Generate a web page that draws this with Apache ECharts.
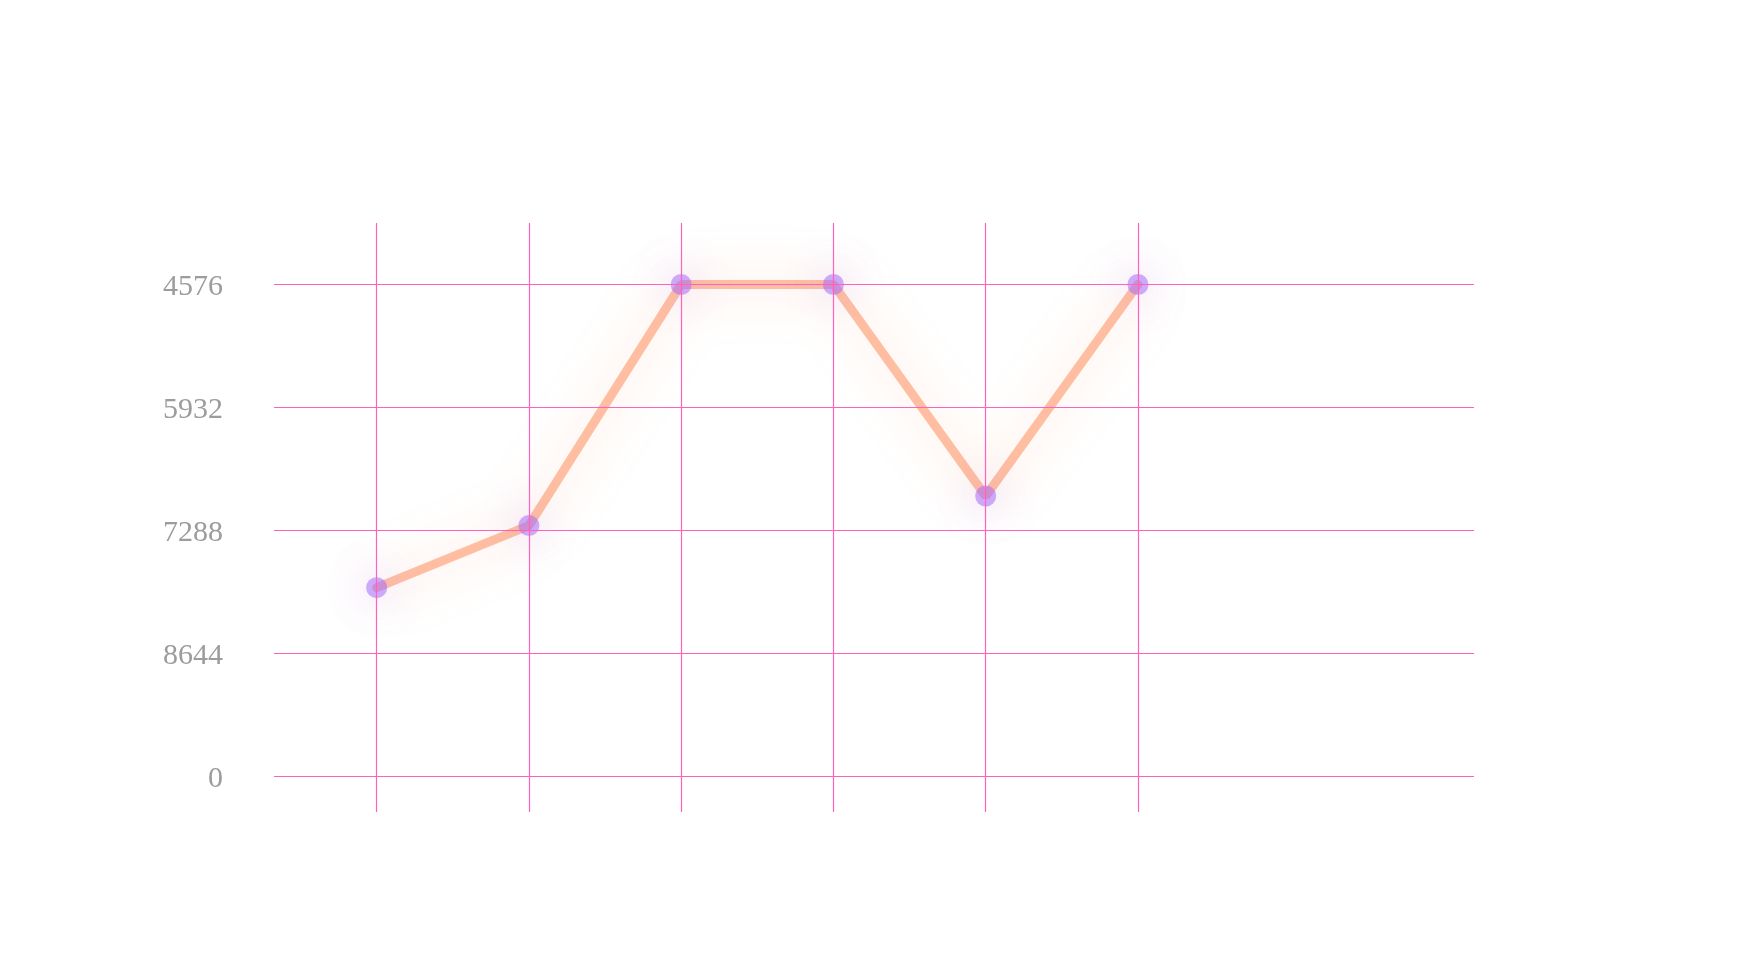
<!DOCTYPE html>
<html>
<head>
<meta charset="utf-8">
<script src="https://cdn.jsdelivr.net/npm/echarts@6/dist/echarts.min.js"></script>
<style>html,body{margin:0;padding:0;background:#fff}#c{width:1742px;height:980px}</style>
</head>
<body>
<div id="c"></div>
<script>
// tick labels, bottom to top (positions 0..4 on the value axis)
var yTickLabels = ['0', '8644', '7288', '5932', '4576'];
var yTickPositions = [0, 1, 2, 3, 4];
// x positions of the points (vertical grid lines)
var xPositions = [0, 1, 2, 3, 4, 5];
// series values, in axis units
var seriesValues = [1.535, 2.04, 4, 4, 2.28, 4];

var gridColor = '#ff62bc';
var chart = echarts.init(document.getElementById('c'), null, {renderer: 'canvas'});
var points = xPositions.map(function (x, i) { return [x, seriesValues[i]]; });

chart.setOption({
  backgroundColor: '#ffffff',
  animation: false,
  grid: {left: 274, right: 268, top: 223, bottom: 168, containLabel: false},
  xAxis: {
    type: 'value', min: -0.674, max: 7.207,
    axisLine: {show: false}, axisTick: {show: false}, axisLabel: {show: false}, splitLine: {show: false}
  },
  yAxis: {
    type: 'value', min: -0.289, max: 4.5,
    axisLine: {show: false}, axisTick: {show: false}, splitLine: {show: false},
    axisLabel: {
      show: true, customValues: yTickPositions, margin: 51,
      fontFamily: '"Liberation Serif", serif', fontSize: 30, color: '#9c9c9c',
      formatter: function (v) { var i = Math.round(v); return yTickLabels[i] !== undefined ? '{t|' + yTickLabels[i] + '}' : ''; },
      rich: {
        t: {fontFamily: '"Liberation Serif", serif', fontSize: 30, color: '#9c9c9c', padding: [5, 0, 0, 0]}
      }
    }
  },
  series: [
    {
      type: 'line', data: [], z: 1, silent: true,
      markLine: {
        silent: true, symbol: 'none', animation: false,
        label: {show: false},
        lineStyle: {color: gridColor, width: 1.2, type: 'solid'},
        emphasis: {disabled: true},
        data: yTickPositions.map(function (v) { return {yAxis: v}; })
          .concat(xPositions.map(function (v) { return {xAxis: v}; }))
      }
    },
    {
      type: 'line', data: points, z: 3,
      lineStyle: {color: 'rgba(255,150,105,0.6)', width: 9, shadowBlur: 50, shadowColor: 'rgba(255,150,90,0.6)', cap: 'round'},
      symbol: 'circle', symbolSize: 21,
      itemStyle: {color: 'rgba(165,105,250,0.55)', borderWidth: 0, shadowBlur: 40, shadowColor: 'rgba(150,90,250,0.7)'}
    }
  ]
});
</script>
</body>
</html>
